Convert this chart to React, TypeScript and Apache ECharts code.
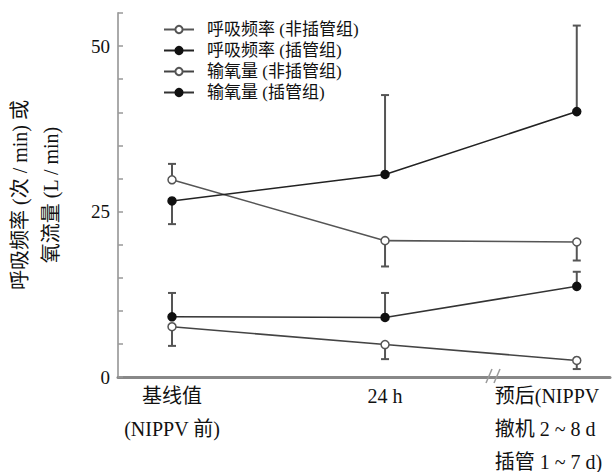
import React, { useEffect, useRef } from "react";
import * as echarts from "echarts";

// Positions of the three time points on a broken (non-uniform) axis
const timePoints = [0, 1, 1.9];
const xLabels = ["基线值\n(NIPPV 前)", "24 h", "预后(NIPPV\n撤机 2 ~ 8 d\n插管 1 ~ 7 d)"];

const seriesNames = [
  "呼吸频率 (非插管组)",
  "呼吸频率 (插管组)",
  "输氧量 (非插管组)",
  "输氧量 (插管组)",
];

// means
const rrNonIntub = [29.8, 20.6, 20.4];
const rrIntub = [26.6, 30.6, 40.1];
const o2NonIntub = [7.6, 4.9, 2.5];
const o2Intub = [9.1, 9.0, 13.7];

// error bar lengths (one-sided) and direction (+1 up, -1 down)
const rrNonIntubSD = [2.4, 3.9, 2.8];
const rrNonIntubDir = [1, -1, -1];
const rrIntubSD = [3.5, 12.0, 13.0];
const rrIntubDir = [-1, 1, 1];
const o2NonIntubSD = [2.9, 2.2, 1.3];
const o2NonIntubDir = [-1, -1, -1];
const o2IntubSD = [3.6, 3.7, 2.2];
const o2IntubDir = [1, 1, 1];

const yTickLabels = [0, 25, 50];

const FONT = '"Liberation Serif", "Noto Sans CJK SC", serif';

export default function App() {
  const ref = useRef<HTMLDivElement>(null);

  useEffect(() => {
    if (!ref.current) return;
    const chart = echarts.init(ref.current, null, { renderer: "svg" });

    const means = [rrNonIntub, rrIntub, o2NonIntub, o2Intub];
    const sds = [rrNonIntubSD, rrIntubSD, o2NonIntubSD, o2IntubSD];
    const dirs = [rrNonIntubDir, rrIntubDir, o2NonIntubDir, o2IntubDir];
    const filled = [false, true, false, true];
    const lineColors = ["#555", "#222", "#444", "#333"];

    const errData: number[][] = [];
    means.forEach((m, si) => {
      m.forEach((v, i) => {
        errData.push([timePoints[i], v, v + dirs[si][i] * sds[si][i]]);
      });
    });

    const lineSeries = means.map((m, si) => ({
      name: seriesNames[si],
      type: "line",
      data: m.map((v, i) => [timePoints[i], v]),
      symbol: "circle",
      symbolSize: 8,
      showAllSymbol: true,
      z: 5,
      lineStyle: { color: lineColors[si], width: 1.6 },
      itemStyle: {
        color: filled[si] ? "#111" : "#fff",
        borderColor: filled[si] ? "#111" : "#555",
        borderWidth: 1.5,
      },
    }));

    chart.setOption({
      animation: false,
      grid: {
        left: 118,
        right: 5,
        top: 13,
        bottom: 95,
        containLabel: false,
        outerBoundsMode: "none",
      },
      legend: {
        orient: "vertical",
        left: 158,
        top: 16,
        itemWidth: 30,
        itemHeight: 9,
        itemGap: 4,
        data: seriesNames,
        textStyle: {
          fontFamily: FONT,
          fontSize: 17,
          color: "#111",
          padding: [0, 0, 0, 8],
        },
      },
      xAxis: {
        type: "value",
        min: -0.2535,
        max: 2.056,
        axisLine: { onZero: false, lineStyle: { color: "#888", width: 3 } },
        axisTick: { show: false },
        splitLine: { show: false },
        axisLabel: {
          customValues: timePoints,
          margin: 2,
          fontFamily: FONT,
          fontSize: 20,
          lineHeight: 33,
          color: "#111",
          formatter: (v: number) => {
            const idx = timePoints.findIndex((t) => Math.abs(t - v) < 1e-6);
            if (idx < 0) return "";
            if (idx === 2) {
              return xLabels[2]
                .split("\n")
                .map((l) => `{l|${l}}`)
                .join("\n");
            }
            return xLabels[idx];
          },
          rich: {
            l: {
              width: 164,
              align: "left",
              fontFamily: FONT,
              fontSize: 20,
              lineHeight: 33,
              color: "#111",
            },
          },
        },
      },
      yAxis: {
        type: "value",
        min: 0,
        max: 55,
        interval: 5,
        name: "呼吸频率 (次 / min) 或\n氧流量 (L / min)",
        nameLocation: "middle",
        nameRotate: 90,
        nameGap: 52,
        nameTextStyle: {
          fontFamily: FONT,
          fontSize: 20,
          lineHeight: 31,
          color: "#111",
        },
        axisLine: { onZero: false, lineStyle: { color: "#aaa", width: 2 } },
        axisTick: { inside: true, length: 5, lineStyle: { color: "#999", width: 1.5 } },
        splitLine: { show: false },
        axisLabel: {
          margin: 8,
          fontFamily: FONT,
          fontSize: 19,
          color: "#111",
          formatter: (v: number) => (yTickLabels.includes(v) ? String(v) : ""),
        },
      },
      graphic: [
        {
          type: "line",
          shape: { x1: 486, y1: 383, x2: 492, y2: 369 },
          style: { stroke: "#999", lineWidth: 1.5 },
          z: 10,
        },
        {
          type: "line",
          shape: { x1: 494, y1: 383, x2: 500, y2: 369 },
          style: { stroke: "#999", lineWidth: 1.5 },
          z: 10,
        },
      ],
      series: [
        {
          type: "custom",
          name: "err",
          z: 2,
          data: errData,
          encode: { x: 0, y: [1, 2] },
          renderItem: (params: any, api: any) => {
            const x = api.value(0);
            const y = api.value(1);
            const e = api.value(2);
            const p0 = api.coord([x, y]);
            const p1 = api.coord([x, e]);
            const hw = 4;
            const style = { stroke: "#555", lineWidth: 2 };
            return {
              type: "group",
              children: [
                { type: "line", shape: { x1: p0[0], y1: p0[1], x2: p1[0], y2: p1[1] }, style },
                { type: "line", shape: { x1: p1[0] - hw, y1: p1[1], x2: p1[0] + hw, y2: p1[1] }, style },
              ],
            };
          },
        },
        ...lineSeries,
      ],
    });

    return () => chart.dispose();
  }, []);

  return (
    <div
      ref={ref}
      style={{ position: "absolute", left: 0, top: 0, width: 615, height: 472 }}
    />
  );
}
